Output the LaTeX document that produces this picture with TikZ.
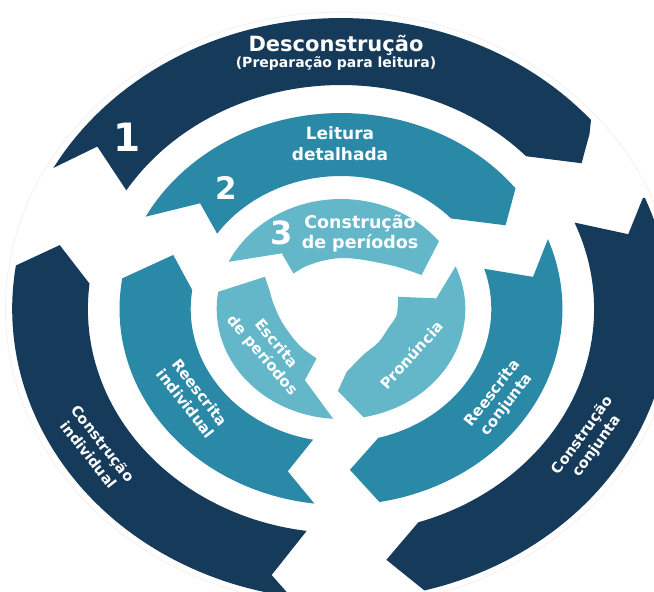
\documentclass[tikz,border=0pt]{standalone}
\usepackage{fontspec}
\setmainfont{DejaVu Sans}
\definecolor{cA}{HTML}{163A59}
\definecolor{cB}{HTML}{2A89A7}
\definecolor{cC}{HTML}{63B7C9}
\begin{document}
\begin{tikzpicture}[x=1pt,y=1pt,
  lbl/.style={text=white, align=center, inner sep=0pt}]
\useasboundingbox (0,0) rectangle (654,-592);
\fill[white] (0,0) rectangle (654,-592);
\begin{scope}[shift={(341,-309)}, xscale=1.13]
  % faint outline
  \draw[black!5, line width=0.8] plot[domain=0:360, samples=180] (\x:297);
  % outer ring
  \fill[cA] (151:291) -- plot[domain=151:40.5, samples=60] (\x:291) -- (38.5:281) -- (34.4:258) -- (43:224) -- plot[domain=43:148, samples=60] (\x:224) -- (143:270) -- cycle;
  \fill[cA] (22.5:289) -- plot[domain=22.5:-75.3, samples=60] (\x:291) -- (-80.9:254) -- (-72.2:224) -- plot[domain=-72.2:22.7, samples=60] (\x:224) -- (16.4:265) -- cycle;
  \fill[cA] (262.2:224) -- (257:273) -- (261.2:291) -- plot[domain=261.2:171.4, samples=60] (\x:291) -- (165.6:257) -- (173.5:224) -- plot[domain=173.5:262.2, samples=60] (\x:224) -- cycle;
  % middle ring
  \fill[cB] (151.9:196) -- plot[domain=151.9:38, samples=60] (\x:196) -- (29.9:168) -- (42.9:133) -- plot[domain=42.9:145.5, samples=60] (\x:133) -- (139.7:163.5) -- cycle;
  \fill[cB] (20.9:196) -- plot[domain=20.9:-80, samples=60] (\x:196) -- (-87.2:161) -- (-75.6:133) -- plot[domain=-75.6:17.6, samples=60] (\x:133) -- (10.7:173) -- cycle;
  \fill[cB] (259.3:133) -- (253.8:169) -- (263.1:196) -- plot[domain=263.1:171, samples=60] (\x:196) -- (160:158) -- (171.8:133) -- plot[domain=171.8:259.3, samples=60] (\x:133) -- cycle;
  % inner ring
  \fill[cC] (154.6:110) -- plot[domain=154.6:38, samples=50] (\x:110) -- (25.5:79) -- plot[smooth] coordinates {(25.5:79) (40.6:65) (68:53) (90:51) (110:51) (127:53) (139.8:55)} -- (133.3:76.5) -- cycle;
  \fill[cC] (22.8:110) -- (7.2:85) -- (13.6:52) -- plot[smooth] coordinates {(13.6:52) (-7:49.6) (-24.7:46) (-45:47) (-66.8:50) (-85.4:63)} -- (-91.9:82) -- (-79.6:110) -- plot[domain=-79.6:22.8, samples=50] (\x:110) -- cycle;
  \fill[cC] (266.4:110) -- (245.8:78) -- (246.4:54) -- plot[smooth] coordinates {(246.4:54) (230:52) (214.8:51.4) (193.6:54) (175:60) (164.6:65.2)} -- (154.4:74.6) -- (171:110) -- plot[domain=171:266.4, samples=50] (\x:110) -- cycle;
\end{scope}
% labels
\node[lbl, font=\bfseries\fontsize{21}{25}\selectfont] (t1) at (336,-45) {Desconstrução};
\node[lbl, font=\bfseries\fontsize{14}{17}\selectfont] (t1b) at (336,-64) {(Preparação para leitura)};
\node[lbl, font=\bfseries\fontsize{39}{44}\selectfont] (n1) at (127,-137) {1};
\node[lbl, font=\bfseries\fontsize{31}{36}\selectfont] (n2) at (226,-188) {2};
\node[lbl, font=\bfseries\fontsize{32}{36}\selectfont] (n3) at (282,-233) {3};
\node[lbl, font=\bfseries\fontsize{17}{21}\selectfont] (t2) at (340,-144) {Leitura\\detalhada};
\node[lbl, font=\bfseries\fontsize{17.5}{20}\selectfont] (t3) at (360,-234) {Construção\\de períodos};
\node[lbl, font=\bfseries\fontsize{15}{18}\selectfont, rotate=-52] (t4) at (193,-398) {Reescrita\\individual};
\node[lbl, font=\bfseries\fontsize{14.5}{18}\selectfont, rotate=-52] (t5) at (96,-449) {Construção\\individual};
\node[lbl, font=\bfseries\fontsize{15}{18}\selectfont, rotate=-50] (t6) at (269,-350) {Escrita\\de períodos};
\node[lbl, font=\bfseries\fontsize{15}{18}\selectfont, rotate=48] (t7) at (411.5,-355) {Pronúncia};
\node[lbl, font=\bfseries\fontsize{15}{18}\selectfont, rotate=52] (t8) at (500,-399) {Reescrita\\conjunta};
\node[lbl, font=\bfseries\fontsize{14.5}{18}\selectfont, rotate=54] (t9) at (590,-441) {Construção\\conjunta};
\end{tikzpicture}
\end{document}
